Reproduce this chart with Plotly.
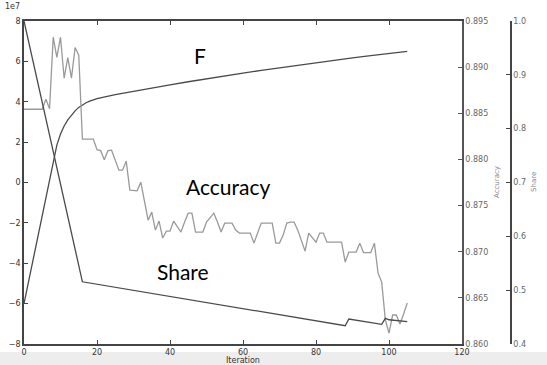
import plotly.graph_objects as go

# ---------------- data ----------------
# Accuracy per iteration (0..105)
acc_iter = list(range(0, 106))
accuracy = [
    0.88544, 0.88544, 0.88544, 0.88544, 0.88544, 0.88544, 0.88652, 0.88549, 0.89324, 0.89107,
    0.89324, 0.88880, 0.89102, 0.88880, 0.89212, 0.89129, 0.88219, 0.88219, 0.88219, 0.88219,
    0.88106, 0.88095, 0.87997, 0.88095, 0.88100, 0.87992, 0.87884, 0.87884, 0.87981, 0.87667,
    0.87660, 0.87660, 0.87754, 0.87548, 0.87342, 0.87429, 0.87234, 0.87332, 0.87148, 0.87223,
    0.87223, 0.87332, 0.87267, 0.87213, 0.87321, 0.87418, 0.87418, 0.87213, 0.87213, 0.87213,
    0.87321, 0.87364, 0.87418, 0.87321, 0.87213, 0.87310, 0.87310, 0.87310, 0.87234, 0.87202,
    0.87202, 0.87202, 0.87202, 0.87093, 0.87213, 0.87310, 0.87310, 0.87310, 0.87310, 0.87093,
    0.87093, 0.87180, 0.87310, 0.87321, 0.87321, 0.87234, 0.87126, 0.87007, 0.87202, 0.87148,
    0.87104, 0.87202, 0.87202, 0.87104, 0.87104, 0.87104, 0.87104, 0.87104, 0.86888, 0.86996,
    0.86996, 0.86996, 0.87093, 0.86991, 0.86991, 0.86991, 0.87093, 0.86769, 0.86671, 0.86260,
    0.86119, 0.86314, 0.86314, 0.86217, 0.86325, 0.86444,
]

# F (in units of 1e7)
f_iter = [0, 7, 8, 9, 10, 11, 12, 13, 14, 15, 16, 17, 18, 19, 20,
          25, 30, 35, 40, 45, 50, 55, 60, 65, 70, 75, 80, 85, 90, 95, 100, 105]
f_1e7 = [-6.0, 0.12, 1.1, 1.85, 2.4, 2.8, 3.1, 3.35, 3.55, 3.72, 3.85, 3.95, 4.03, 4.1, 4.16,
         4.35, 4.52, 4.68, 4.84, 4.99, 5.14, 5.28, 5.42, 5.55, 5.68, 5.81, 5.93, 6.05, 6.17, 6.29, 6.40, 6.50]

# Share
share_iter = [0, 16, 88, 89, 98, 99, 100, 105]
share = [1.0, 0.5156, 0.434, 0.4464, 0.4366, 0.4477, 0.445, 0.4415]

x_ticks = [0, 20, 40, 60, 80, 100, 120]
left_ticks = [-8, -6, -4, -2, 0, 2, 4, 6, 8]
left_tick_text = ["\u22128", "\u22126", "\u22124", "\u22122", "0", "2", "4", "6", "8"]
acc_ticks = [0.860, 0.865, 0.870, 0.875, 0.880, 0.885, 0.890, 0.895]
share_ticks = [0.4, 0.5, 0.6, 0.7, 0.8, 0.9, 1.0]

# ---------------- figure ----------------
W, H = 547, 365
L, R, T, B = 24, 30, 21, 21
plot_w = W - L - R
plot_h = H - T - B
x_dom_end = (462 - L) / plot_w
share_pos = (511 - L) / plot_w

def px_x(p):
    return (p - L) / plot_w

def px_y(p):
    return (H - B - p) / plot_h

dark = "#4a4a4a"
light = "#9a9a9a"
tick_font = dict(family="DejaVu Sans", size=8, color="#333333")
tick_font_r = dict(family="DejaVu Sans", size=8, color="#666666")

fig = go.Figure()
fig.add_trace(go.Scatter(x=f_iter, y=f_1e7, mode="lines", line=dict(color=dark, width=1.3),
                         xaxis="x", yaxis="y", showlegend=False))
fig.add_trace(go.Scatter(x=acc_iter, y=accuracy, mode="lines", line=dict(color=light, width=1.3),
                         xaxis="x", yaxis="y2", showlegend=False))
fig.add_trace(go.Scatter(x=share_iter, y=share, mode="lines", line=dict(color=dark, width=1.3),
                         xaxis="x", yaxis="y3", showlegend=False))

def ann(text, x, y, size, color, family="DejaVu Sans", angle=0, xref="paper", yref="paper"):
    return dict(text=text, xref=xref, yref=yref, x=x, y=y, xanchor="center", yanchor="middle",
                textangle=angle, showarrow=False,
                font=dict(family=family, size=size, color=color))

fig.update_layout(
    width=W, height=H,
    margin=dict(l=L, r=R, t=T, b=B, autoexpand=False),
    paper_bgcolor="white", plot_bgcolor="white",
    xaxis=dict(domain=[0, x_dom_end], range=[0, 120], tickvals=x_ticks,
               ticks="inside", ticklen=4, tickcolor="#444", showgrid=False, zeroline=False,
               showline=True, linecolor="#444", linewidth=1.5, mirror="ticks",
               tickfont=tick_font),
    yaxis=dict(range=[-8, 8], tickvals=left_ticks, ticktext=left_tick_text,
               ticks="inside", ticklen=4, tickcolor="#444", showgrid=False, zeroline=False,
               showline=True, linecolor="#444", linewidth=1.5,
               tickfont=tick_font),
    yaxis2=dict(range=[0.860, 0.895], tickvals=acc_ticks, tickformat=".3f",
                overlaying="y", side="right", anchor="x",
                ticks="inside", ticklen=4, tickcolor="#555", showgrid=False, zeroline=False,
                showline=True, linecolor="#555", linewidth=1.5,
                tickfont=tick_font_r),
    yaxis3=dict(range=[0.4, 1.0], tickvals=share_ticks, tickformat=".1f",
                overlaying="y", side="right", anchor="free", position=share_pos,
                ticks="inside", ticklen=4, tickcolor="#444", showgrid=False, zeroline=False,
                showline=True, linecolor="#444", linewidth=1.5,
                tickfont=tick_font_r),
    shapes=[
        dict(type="rect", xref="paper", yref="paper", layer="below",
             x0=px_x(0), x1=px_x(W), y0=px_y(352), y1=px_y(H),
             fillcolor="#ededed", line=dict(width=0)),
    ],
    annotations=[
        ann("1e7", px_x(12), px_y(7), 8, "#333"),
        ann("Iteration", px_x(243), px_y(360.5), 8, "#333"),
        ann("Accuracy", px_x(497), px_y(182), 7, "#888", angle=-90),
        ann("Share", px_x(534), px_y(182), 7, "#888", angle=-90),
        ann("F", 48.2, 6.3, 21, "black", family="Lato", xref="x", yref="y"),
        ann("Accuracy", 55.9, -0.2, 21, "black", family="Lato", xref="x", yref="y"),
        ann("Share", 43.5, -4.4, 21, "black", family="Lato", xref="x", yref="y"),
    ],
)

fig.write_html("out.html", config={"displayModeBar": False},
               post_script="document.body.style.margin='0';document.body.style.overflow='hidden';")
